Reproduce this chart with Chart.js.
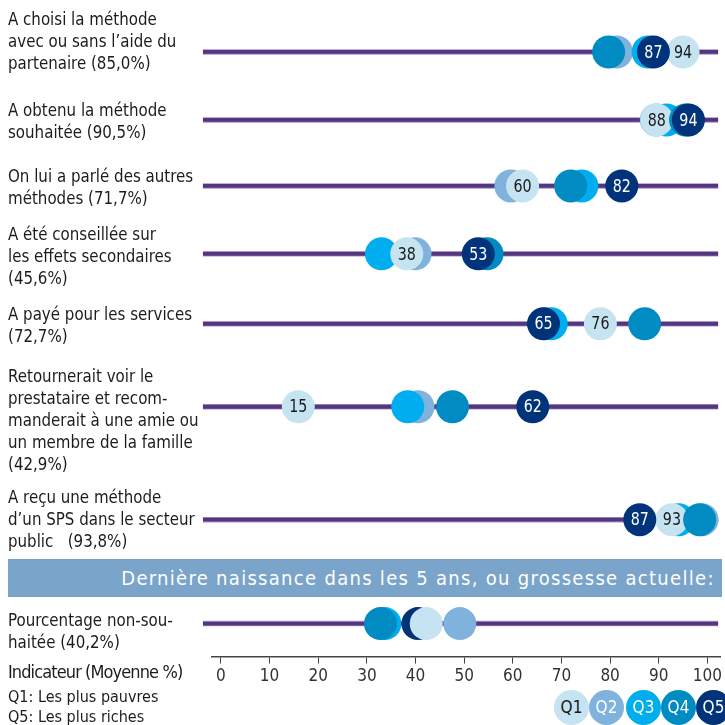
<!DOCTYPE html>
<html><head><meta charset="utf-8">
<script src="https://cdn.jsdelivr.net/npm/chart.js@4/dist/chart.umd.min.js"></script>
<style>
html,body{margin:0;padding:0;background:#fff;}
#wrap{position:relative;width:725px;height:725px;overflow:hidden;font-family:"Liberation Sans Narrow","DejaVu Sans Condensed",sans-serif;color:#1c1c1c;}
#c{position:absolute;left:0;top:0;}
.lbl{position:absolute;left:8px;font-size:18px;line-height:22px;white-space:pre;transform:scaleX(0.93);transform-origin:0 0;}
#banner{position:absolute;left:8px;top:559px;width:714px;height:38px;background:#7aa4c9;color:#fff;font-size:20px;line-height:38px;box-sizing:border-box;padding-left:106px;text-align:center;letter-spacing:1.3px;}
#ind{position:absolute;left:8px;top:661px;font-size:18px;letter-spacing:-0.9px;line-height:22px;}
#qnote{position:absolute;left:8px;top:687px;font-size:16px;line-height:20px;white-space:pre;}
.lg{position:absolute;width:35px;height:35px;border-radius:50%;text-align:center;line-height:35px;font-size:17px;}
</style></head>
<body><div id="wrap"><canvas id="c" width="725" height="725"></canvas></div>
<script>
// ---- data ----
const categories = [
  "A choisi la méthode\navec ou sans l’aide du\npartenaire (85,0%)",
  "A obtenu la méthode\nsouhaitée (90,5%)",
  "On lui a parlé des autres\nméthodes (71,7%)",
  "A été conseillée sur\nles effets secondaires\n(45,6%)",
  "A payé pour les services\n(72,7%)",
  "Retournerait voir le\nprestataire et recom-\nmanderait à une amie ou\nun membre de la famille\n(42,9%)",
  "A reçu une méthode\nd’un SPS dans le secteur\npublic   (93,8%)",
  "Pourcentage non-sou-\nhaitée (40,2%)"
];
const quintiles = ["Q1","Q2","Q3","Q4","Q5"];
const q1 = [95.0, 89.6, 62.0, 38.2, 78.0, 15.9, 92.7, 42.2];
const q2 = [81.3, 89.5, 59.6, 39.9, 66.5, 40.5, 98.9, 49.1];
const q3 = [87.8, 91.6, 74.2, 33.0, 67.9, 38.4, 94.1, 33.7];
const q4 = [79.7, 95.5, 71.9, 54.7, 87.1, 47.6, 98.4, 32.8];
const q5 = [88.9, 96.1, 82.4, 52.9, 66.3, 64.1, 86.1, 40.5];
const q1Labels = ["94","88","60","38","76","15","93",""];
const q5Labels = ["87","94","82","53","65","62","87",""];
const xTicks = [0,10,20,30,40,50,60,70,80,90,100];
const bannerText = "Dernière naissance dans les 5 ans, ou grossesse actuelle:";
const indicatorText = "Indicateur (Moyenne %)";
const quintileNote = "Q1: Les plus pauvres\nQ5: Les plus riches";

// ---- layout / style ----
const rowY = [52, 120, 186, 254, 324, 407, 520, 624];
const labelTop = [8, 99, 165, 223, 303, 365, 486, 609];
const drawOrder = [[1,2,0,3,4],[1,2,0,3,4],[1,2,0,3,4],[1,2,0,3,4],[1,2,0,3,4],[1,2,0,3,4],[1,2,0,3,4],[1,2,3,4,0]];
const colors = ["#c5e3f1","#7fb2dc","#00aeef","#008bc3","#00337a"];
const textColors = ["#1a1a1a","#ffffff","#ffffff","#ffffff","#ffffff"];
const FONT = '"Liberation Sans Narrow","DejaVu Sans Condensed",sans-serif';

const wrap = document.getElementById('wrap');
categories.forEach((t,i)=>{
  const d=document.createElement('div'); d.className='lbl'; d.style.top=labelTop[i]+'px'; d.textContent=t; wrap.appendChild(d);
});
const b=document.createElement('div'); b.id='banner'; b.textContent=bannerText; wrap.appendChild(b);
const ind=document.createElement('div'); ind.id='ind'; ind.textContent=indicatorText; wrap.appendChild(ind);
const qn=document.createElement('div'); qn.id='qnote'; qn.textContent=quintileNote; wrap.appendChild(qn);
const lgX=[554,589,626,661,696];
quintiles.forEach((q,i)=>{
  const d=document.createElement('div'); d.className='lg';
  d.style.left=lgX[i]+'px'; d.style.top='690px'; d.style.background=colors[i]; d.style.color=textColors[i];
  d.textContent=q; wrap.appendChild(d);
});

const series=[q1,q2,q3,q4,q5];
const labelsBy=[q1Labels,null,null,null,q5Labels];
const points=[];
rowY.forEach((y,r)=>{
  drawOrder[r].forEach(qi=>{
    points.push({x:series[qi][r], y:y, q:qi, label: labelsBy[qi]? labelsBy[qi][r] : ""});
  });
});

const rowLines={
  id:'rowLines',
  beforeDatasetsDraw(chart){
    const {ctx,scales:{x,y}}=chart;
    ctx.save();
    rowY.forEach(v=>{
      const py=y.getPixelForValue(v);
      const x0=x.getPixelForValue(-3.7), x1=x.getPixelForValue(102.2);
      ctx.lineCap='butt';
      ctx.strokeStyle='#a896c6'; ctx.lineWidth=5.5;
      ctx.beginPath(); ctx.moveTo(x0,py); ctx.lineTo(x1,py); ctx.stroke();
      ctx.strokeStyle='#54357f'; ctx.lineWidth=3.8;
      ctx.beginPath(); ctx.moveTo(x0,py); ctx.lineTo(x1,py); ctx.stroke();
    });
    ctx.restore();
  }
};
const ptLabels={
  id:'ptLabels',
  afterDatasetsDraw(chart){
    const {ctx}=chart; const meta=chart.getDatasetMeta(0);
    ctx.save(); ctx.font='18px '+FONT; ctx.textAlign='center'; ctx.textBaseline='middle';
    meta.data.forEach((el,i)=>{
      const p=points[i]; if(!p.label) return;
      ctx.save(); ctx.translate(el.x, el.y+1); ctx.scale(0.88,1);
      ctx.fillStyle=textColors[p.q]; ctx.fillText(p.label, 0, 0);
      ctx.restore();
    });
    ctx.restore();
  }
};

new Chart(document.getElementById('c'),{
  type:'scatter',
  data:{datasets:[{
    data:points,
    pointRadius:16.5, pointHoverRadius:16.5, borderWidth:0, clip:false,
    backgroundColor:ctx=>colors[ctx.raw ? ctx.raw.q : 0],
    pointBackgroundColor:ctx=>colors[ctx.raw ? ctx.raw.q : 0]
  }]},
  options:{
    responsive:false, animation:false, events:[],
    layout:{autoPadding:false,padding:{left:212,right:0,top:0,bottom:35}},
    plugins:{legend:{display:false},tooltip:{enabled:false}},
    scales:{
      x:{type:'linear',min:-1.84,max:102.6,
        afterBuildTicks:s=>{s.ticks=xTicks.map(v=>({value:v}));},
        grid:{display:true,drawOnChartArea:false,drawTicks:true,tickLength:7,color:'#444',lineWidth:1},
        border:{display:true,color:'#444',width:1.5},
        ticks:{font:{family:FONT,size:17},color:'#333',padding:3,maxRotation:0,autoSkip:false}
      },
      y:{type:'linear',min:0,max:657,reverse:true,display:false}
    }
  },
  plugins:[rowLines,ptLabels]
});
</script></body></html>
